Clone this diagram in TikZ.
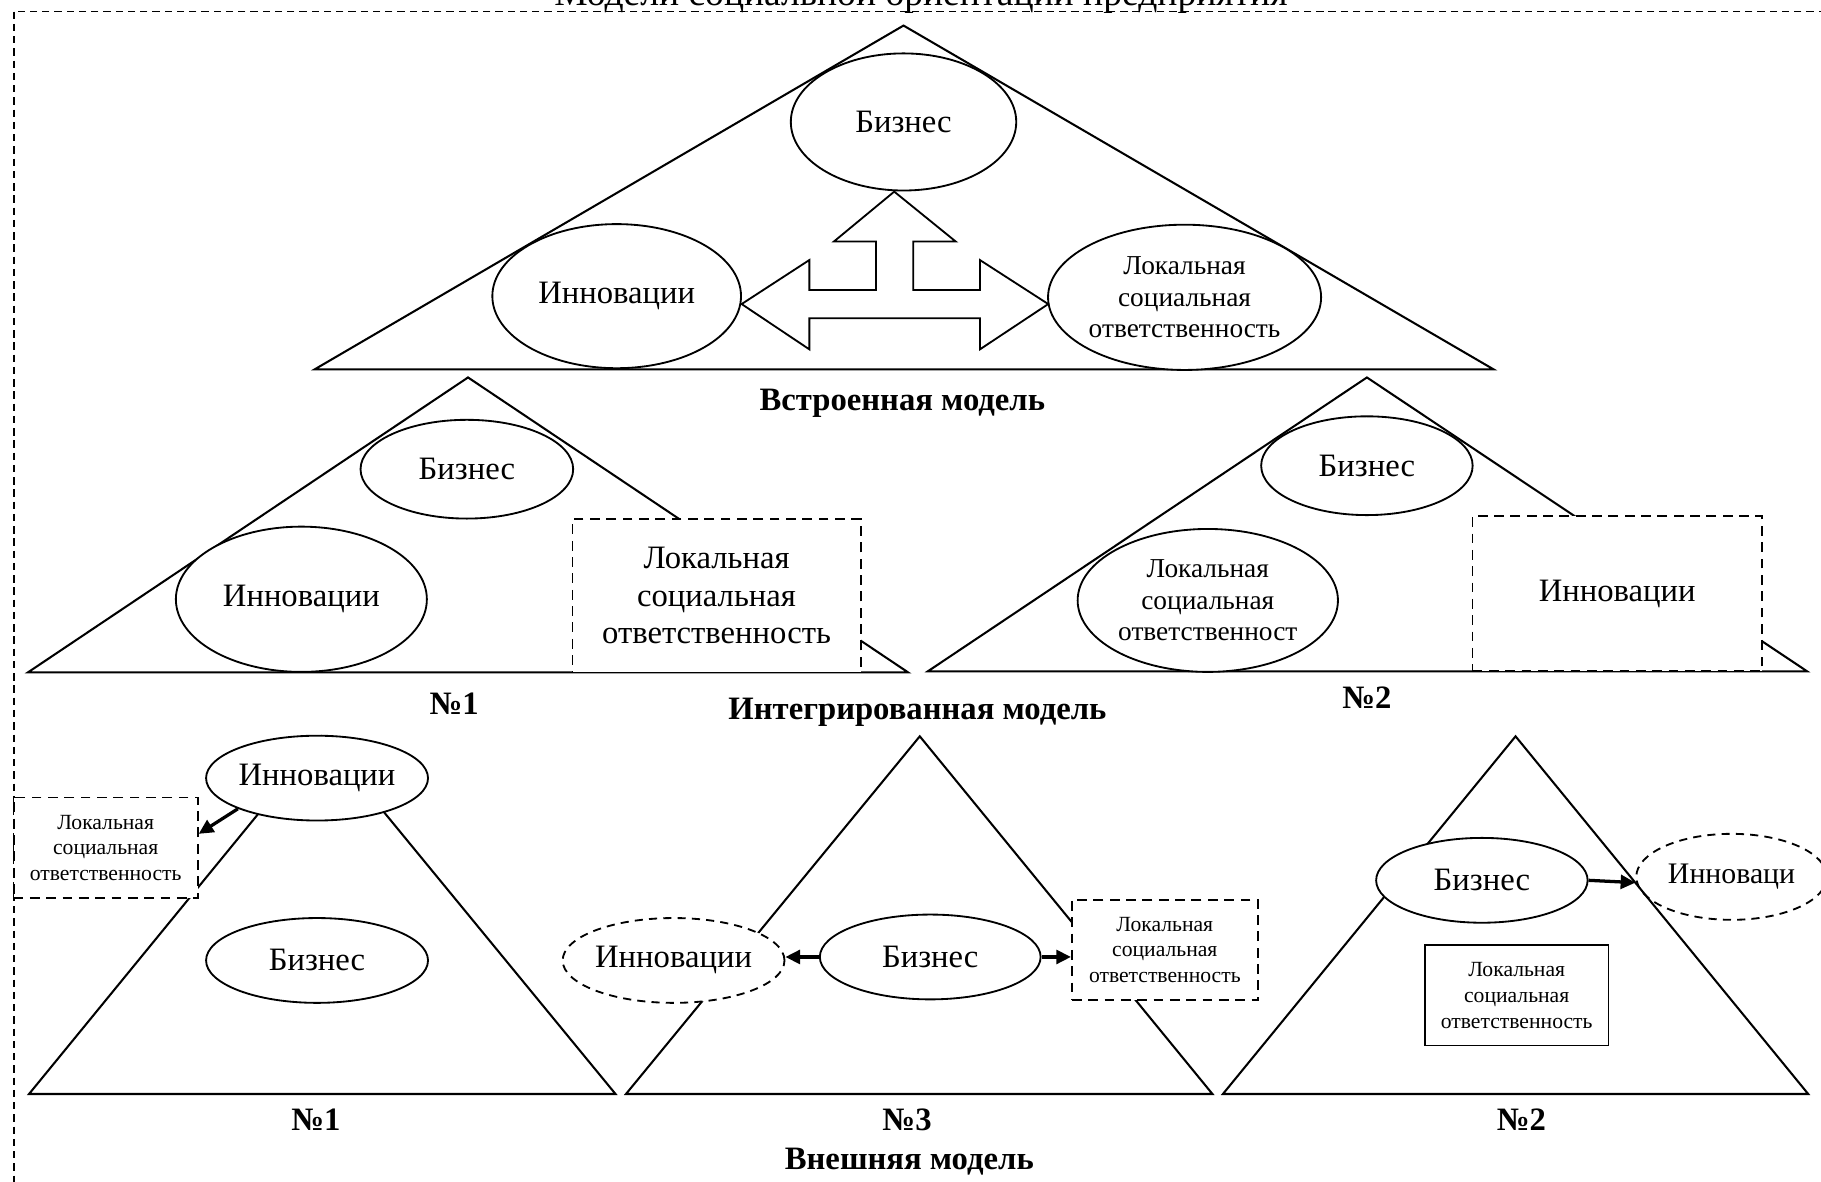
\documentclass[tikz,border=0pt]{standalone}
\usepackage{fontspec}
\setmainfont{Liberation Serif}
\usetikzlibrary{shapes,arrows.meta,positioning,calc}

\begin{document}
\begin{tikzpicture}[
    x=0.01cm, y=-0.01cm,
    tri/.style={draw, line width=0.5pt, line join=miter},
    oval/.style={ellipse, draw, fill=white, line width=0.45pt, inner sep=0pt, align=center, font=\fontsize{8}{9.2}\selectfont},
    ovaldash/.style={oval, dash pattern=on 2pt off 1.5pt},
    dbox/.style={rectangle, draw, fill=white, dash pattern=on 2.4pt off 1.6pt, line width=0.45pt, inner sep=0pt, align=center, font=\fontsize{8}{9.2}\selectfont},
    sbox/.style={rectangle, draw, fill=white, line width=0.45pt, inner sep=0pt, align=center},
    small/.style={font=\fontsize{6.7}{7.7}\selectfont},
    tiny/.style={font=\fontsize{5.3}{6.3}\selectfont},
    lbl/.style={font=\bfseries\fontsize{8}{9.2}\selectfont},
    link/.style={-{Triangle[length=3.6pt, width=3.4pt]}, line width=0.8pt}
]
\clip (0,0) rectangle (1568,1017);
\draw[dash pattern=on 1.8pt off 1.2pt, line width=0.35pt] (12,10) rectangle (1620,1060);
\node[anchor=base, font=\fontsize{9.2}{10}\selectfont] (title) at (793,5) {Модели социальной ориентации предприятия};

% встроенная модель
\draw[tri] (778,22) -- (1286,318) -- (271,318) -- cycle;
\node[oval, minimum width=1.94cm, minimum height=1.18cm] (biz) at (778,105) {Бизнес};
\node[oval, minimum width=2.14cm, minimum height=1.24cm] (inn) at (531,255) {Инновации};
\node[oval, small, minimum width=2.35cm, minimum height=1.25cm] (lsr) at (1020,256) {Локальная\\социальная\\ответственность};
\draw[line width=0.45pt, line join=miter] (770,165) -- (823,208) -- (786.4,208) -- (786.4,249.7) -- (843.8,249.7) -- (843.8,223.9) -- (902.6,261.8) -- (843.8,300.8) -- (843.8,274) -- (696.9,274) -- (696.9,300.8) -- (638.6,261.8) -- (696.9,223.9) -- (696.9,249.7) -- (754.3,249.7) -- (754.3,208) -- (718,208) -- cycle;
\node[lbl] (emb) at (777,347) {Встроенная модель};

% интегрированная модель
\draw[tri] (403,325) -- (782,579) -- (24,579) -- cycle;
\node[oval, minimum width=1.83cm, minimum height=0.85cm] (biz1) at (402,404) {Бизнес};
\node[oval, minimum width=2.16cm, minimum height=1.25cm] (inn1) at (259.5,516) {Инновации};
\node[dbox, minimum width=2.48cm, minimum height=1.32cm] (lsr1) at (617,513) {Локальная\\социальная\\ответственность};
\node[lbl] (no1) at (391,606) {№1};

\draw[tri] (1177,325) -- (1556,578) -- (799,578) -- cycle;
\node[oval, minimum width=1.82cm, minimum height=0.85cm] (biz2) at (1177,401) {Бизнес};
\node[oval, small, minimum width=2.24cm, minimum height=1.23cm] (lsr2) at (1040,517) {Локальная\\социальная\\ответственност};
\node[dbox, minimum width=2.49cm, minimum height=1.335cm] (inn2) at (1392.5,511) {Инновации};
\node[lbl] (no2) at (1177,601) {№2};
\node[lbl] (intg) at (790,613) {Интегрированная модель};

% внешняя модель
\draw[tri] (277,634) -- (530,942) -- (25,942) -- cycle;
\node[oval, minimum width=1.91cm, minimum height=0.73cm] (inn3) at (273,670) {Инновации};
\node[dbox, tiny, minimum width=1.585cm, minimum height=0.865cm] (lsr3) at (91,730) {Локальная\\социальная\\ответственность};
\node[oval, minimum width=1.91cm, minimum height=0.73cm] (biz3) at (273,827) {Бизнес};
\draw[link] (inn3.south west) -- ([yshift=0.12cm]lsr3.east);
\node[lbl] (no3) at (272,964) {№1};

\draw[tri] (792,634) -- (1044,942) -- (539,942) -- cycle;
\node[ovaldash, minimum width=1.90cm, minimum height=0.73cm] (inn4) at (580,827) {Инновации};
\node[oval, minimum width=1.90cm, minimum height=0.73cm] (biz4) at (801,824) {Бизнес};
\node[dbox, tiny, minimum width=1.60cm, minimum height=0.866cm] (lsr4) at (1003,818) {Локальная\\социальная\\ответственность};
\draw[link] (biz4.west) -- (biz4.west -| inn4.east);
\draw[link] (biz4.east) -- (biz4.east -| lsr4.west);
\node[lbl] (no4) at (781,964) {№3};

\draw[tri] (1305,634) -- (1557,942) -- (1053,942) -- cycle;
\node[oval, minimum width=1.82cm, minimum height=0.73cm] (biz5) at (1276,758) {Бизнес};
\node[ovaldash, fill=none, font=\fontsize{7.3}{8.4}\selectfont, minimum width=1.64cm, minimum height=0.74cm] (inn5) at (1491,755) {Инноваци};
\node[sbox, tiny, minimum width=1.58cm, minimum height=0.864cm] (lsr5) at (1306,857) {Локальная\\социальная\\ответственность};
\draw[link] (biz5.east) -- ([yshift=-0.05cm]inn5.west);
\node[lbl] (no5) at (1310,964) {№2};
\node[lbl] (ext) at (783,1000) {Внешняя модель};
\end{tikzpicture}
\end{document}
